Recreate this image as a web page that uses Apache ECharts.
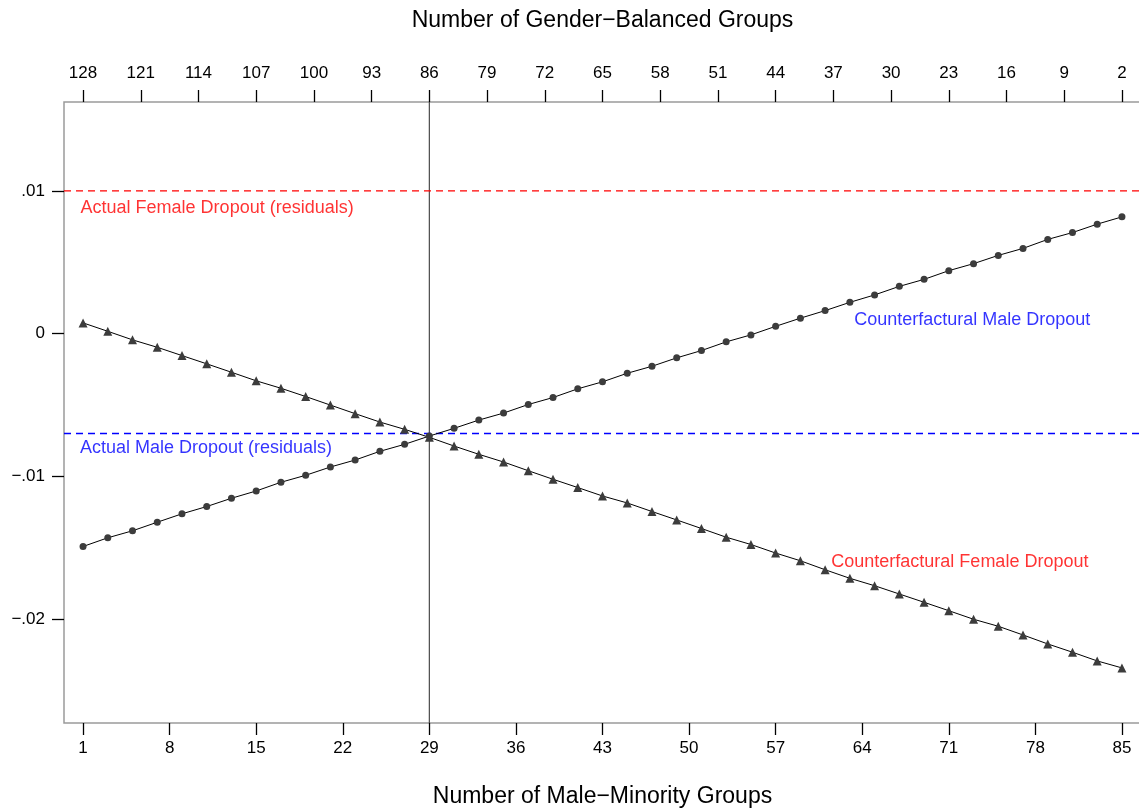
<!DOCTYPE html>
<html>
<head>
<meta charset="utf-8">
<title>Counterfactual dropout by group composition</title>
<script src="https://cdn.jsdelivr.net/npm/echarts@6/dist/echarts.min.js"></script>
<style>
  html, body { margin: 0; padding: 0; background: #ffffff; }
  #chart { width: 1139px; height: 811px; }
</style>
</head>
<body>
<div id="chart"></div>
<script>
// Number of male-minority groups (bottom axis), one point every two groups
const groups = [1, 3, 5, 7, 9, 11, 13, 15, 17, 19, 21, 23, 25, 27, 29, 31, 33, 35, 37, 39, 41,
  43, 45, 47, 49, 51, 53, 55, 57, 59, 61, 63, 65, 67, 69, 71, 73, 75, 77, 79, 81, 83, 85];

// Counterfactual male dropout (circles)
const maleCounterfactual = [-0.01492, -0.01431, -0.01382, -0.01322, -0.01263, -0.01212, -0.01154,
  -0.01103, -0.01042, -0.00993, -0.00935, -0.00886, -0.00825, -0.00776, -0.00718, -0.00664,
  -0.00606, -0.00557, -0.00497, -0.00448, -0.00387, -0.00338, -0.00278, -0.00229, -0.00170,
  -0.00119, -0.00058, -0.00009, 0.00051, 0.00108, 0.00161, 0.00219, 0.00271, 0.00331, 0.00380,
  0.00441, 0.00490, 0.00548, 0.00597, 0.00660, 0.00708, 0.00767, 0.00818];

// Counterfactual female dropout (triangles)
const femaleCounterfactual = [0.00075, 0.00016, -0.00044, -0.00096, -0.00154, -0.00212, -0.00271,
  -0.00331, -0.00383, -0.00441, -0.00501, -0.00561, -0.00620, -0.00671, -0.00727, -0.00788,
  -0.00846, -0.00900, -0.00961, -0.01021, -0.01079, -0.01138, -0.01187, -0.01247, -0.01306,
  -0.01366, -0.01427, -0.01478, -0.01538, -0.01592, -0.01655, -0.01715, -0.01767, -0.01825,
  -0.01883, -0.01942, -0.02002, -0.02051, -0.02112, -0.02175, -0.02233, -0.02294, -0.02343];

// Reference levels (actual dropout residuals) and the marked group count
const actualFemale = 0.01;
const actualMale = -0.007;
const markedGroup = 29;

// Axis extents
const xRange = [-0.54, 86.54];
const topRange = [-0.31, 130.31];
const yRange = [-0.02729, 0.01623];

// Tick labels
const bottomTicks = [1, 8, 15, 22, 29, 36, 43, 50, 57, 64, 71, 78, 85];
const topTicks = [128, 121, 114, 107, 100, 93, 86, 79, 72, 65, 58, 51, 44, 37, 30, 23, 16, 9, 2];
const yTicks = [-0.02, -0.01, 0, 0.01];
const yTickLabels = ['\u2212.02', '\u2212.01', '0', '.01'];

// Annotation texts and their anchor points (left edge, vertical middle)
const notes = [
  { text: 'Actual Female Dropout (residuals)', x: 0.8, y: 0.0088, color: '#ff0000' },
  { text: 'Actual Male Dropout (residuals)', x: 0.75, y: -0.0080, color: '#0000ff' },
  { text: 'Counterfactural Male Dropout', x: 63.35, y: 0.00093, color: '#0000ff' },
  { text: 'Counterfactural Female Dropout', x: 61.5, y: -0.0160, color: '#ff0000' }
];

const FONT = 'Liberation Sans, Arial, Helvetica, sans-serif';

const chart = echarts.init(document.getElementById('chart'), null, { renderer: 'canvas' });

const tickStyle = { show: true, length: 12, lineStyle: { color: '#000000', width: 1.3 } };

// Straight reference line drawn as a two-point series
function refLine(name, points, color, dashed, width, z) {
  return {
    name: name,
    type: 'line',
    xAxisIndex: 0,
    data: points,
    color: color,
    symbol: 'none',
    silent: true,
    z: z,
    itemStyle: { color: color },
    lineStyle: { color: color, width: width, type: dashed ? [7, 5] : 'solid' },
    emphasis: { disabled: true }
  };
}

chart.setOption({
  animation: false,
  backgroundColor: '#ffffff',
  textStyle: { fontFamily: FONT },
  grid: {
    show: true,
    left: 64,
    top: 102,
    width: 1077,
    height: 621,
    containLabel: false,
    outerBoundsMode: 'none',
    borderColor: '#9a9a9a',
    borderWidth: 1.5,
    backgroundColor: 'transparent'
  },
  xAxis: [
    {
      type: 'value',
      position: 'bottom',
      min: xRange[0],
      max: xRange[1],
      name: 'Number of Male\u2212Minority Groups',
      nameLocation: 'middle',
      nameGap: 62,
      nameTextStyle: { fontSize: 23, color: '#000000', fontFamily: FONT },
      axisLine: { show: false, onZero: false },
      splitLine: { show: false },
      axisTick: Object.assign({ customValues: bottomTicks }, tickStyle),
      axisLabel: { customValues: bottomTicks, margin: 17, fontSize: 17, color: '#000000', fontFamily: FONT }
    },
    {
      type: 'value',
      position: 'top',
      inverse: true,
      min: topRange[0],
      max: topRange[1],
      name: 'Number of Gender\u2212Balanced Groups',
      nameLocation: 'middle',
      nameGap: 70,
      nameTextStyle: { fontSize: 23, color: '#000000', fontFamily: FONT },
      axisLine: { show: false, onZero: false },
      splitLine: { show: false },
      axisTick: Object.assign({ customValues: topTicks }, tickStyle),
      axisLabel: { customValues: topTicks, margin: 20, fontSize: 17, color: '#000000', fontFamily: FONT }
    }
  ],
  yAxis: {
    type: 'value',
    min: yRange[0],
    max: yRange[1],
    axisLine: { show: false, onZero: false },
    splitLine: { show: false },
    axisTick: Object.assign({ customValues: yTicks }, tickStyle),
    axisLabel: {
      customValues: yTicks,
      margin: 19,
      fontSize: 17,
      color: '#000000',
      fontFamily: FONT,
      formatter: function (v) {
        const i = yTicks.findIndex(function (t) { return Math.abs(t - v) < 1e-9; });
        return i >= 0 ? yTickLabels[i] : '';
      }
    }
  },
  series: [
    refLine('marked group', [[markedGroup, yRange[0]], [markedGroup, yRange[1]]], '#4a4a4a', false, 1.2, 2),
    refLine('Actual Female Dropout', [[xRange[0], actualFemale], [xRange[1], actualFemale]], '#ff0000', true, 1.3, 3),
    refLine('Actual Male Dropout', [[xRange[0], actualMale], [xRange[1], actualMale]], '#0000ff', true, 1.3, 3),
    {
      name: 'Counterfactural Male Dropout',
      type: 'line',
      xAxisIndex: 0,
      data: groups.map(function (g, i) { return [g, maleCounterfactual[i]]; }),
      symbol: 'circle',
      symbolSize: 7,
      showAllSymbol: true,
      itemStyle: { color: '#3c3c3c' },
      lineStyle: { color: '#000000', width: 1 },
      z: 5
    },
    {
      name: 'Counterfactural Female Dropout',
      type: 'line',
      xAxisIndex: 0,
      data: groups.map(function (g, i) { return [g, femaleCounterfactual[i]]; }),
      symbol: 'triangle',
      symbolSize: 9,
      showAllSymbol: true,
      itemStyle: { color: '#3c3c3c' },
      lineStyle: { color: '#000000', width: 1 },
      z: 5
    },
    {
      name: 'notes',
      type: 'scatter',
      xAxisIndex: 0,
      symbolSize: 0,
      silent: true,
      z: 6,
      data: notes.map(function (n) {
        return {
          value: [n.x, n.y],
          label: {
            show: true,
            position: 'right',
            distance: 0,
            formatter: n.text,
            color: n.color,
            fontSize: 18,
            fontFamily: FONT
          }
        };
      })
    }
  ]
});
</script>
</body>
</html>
